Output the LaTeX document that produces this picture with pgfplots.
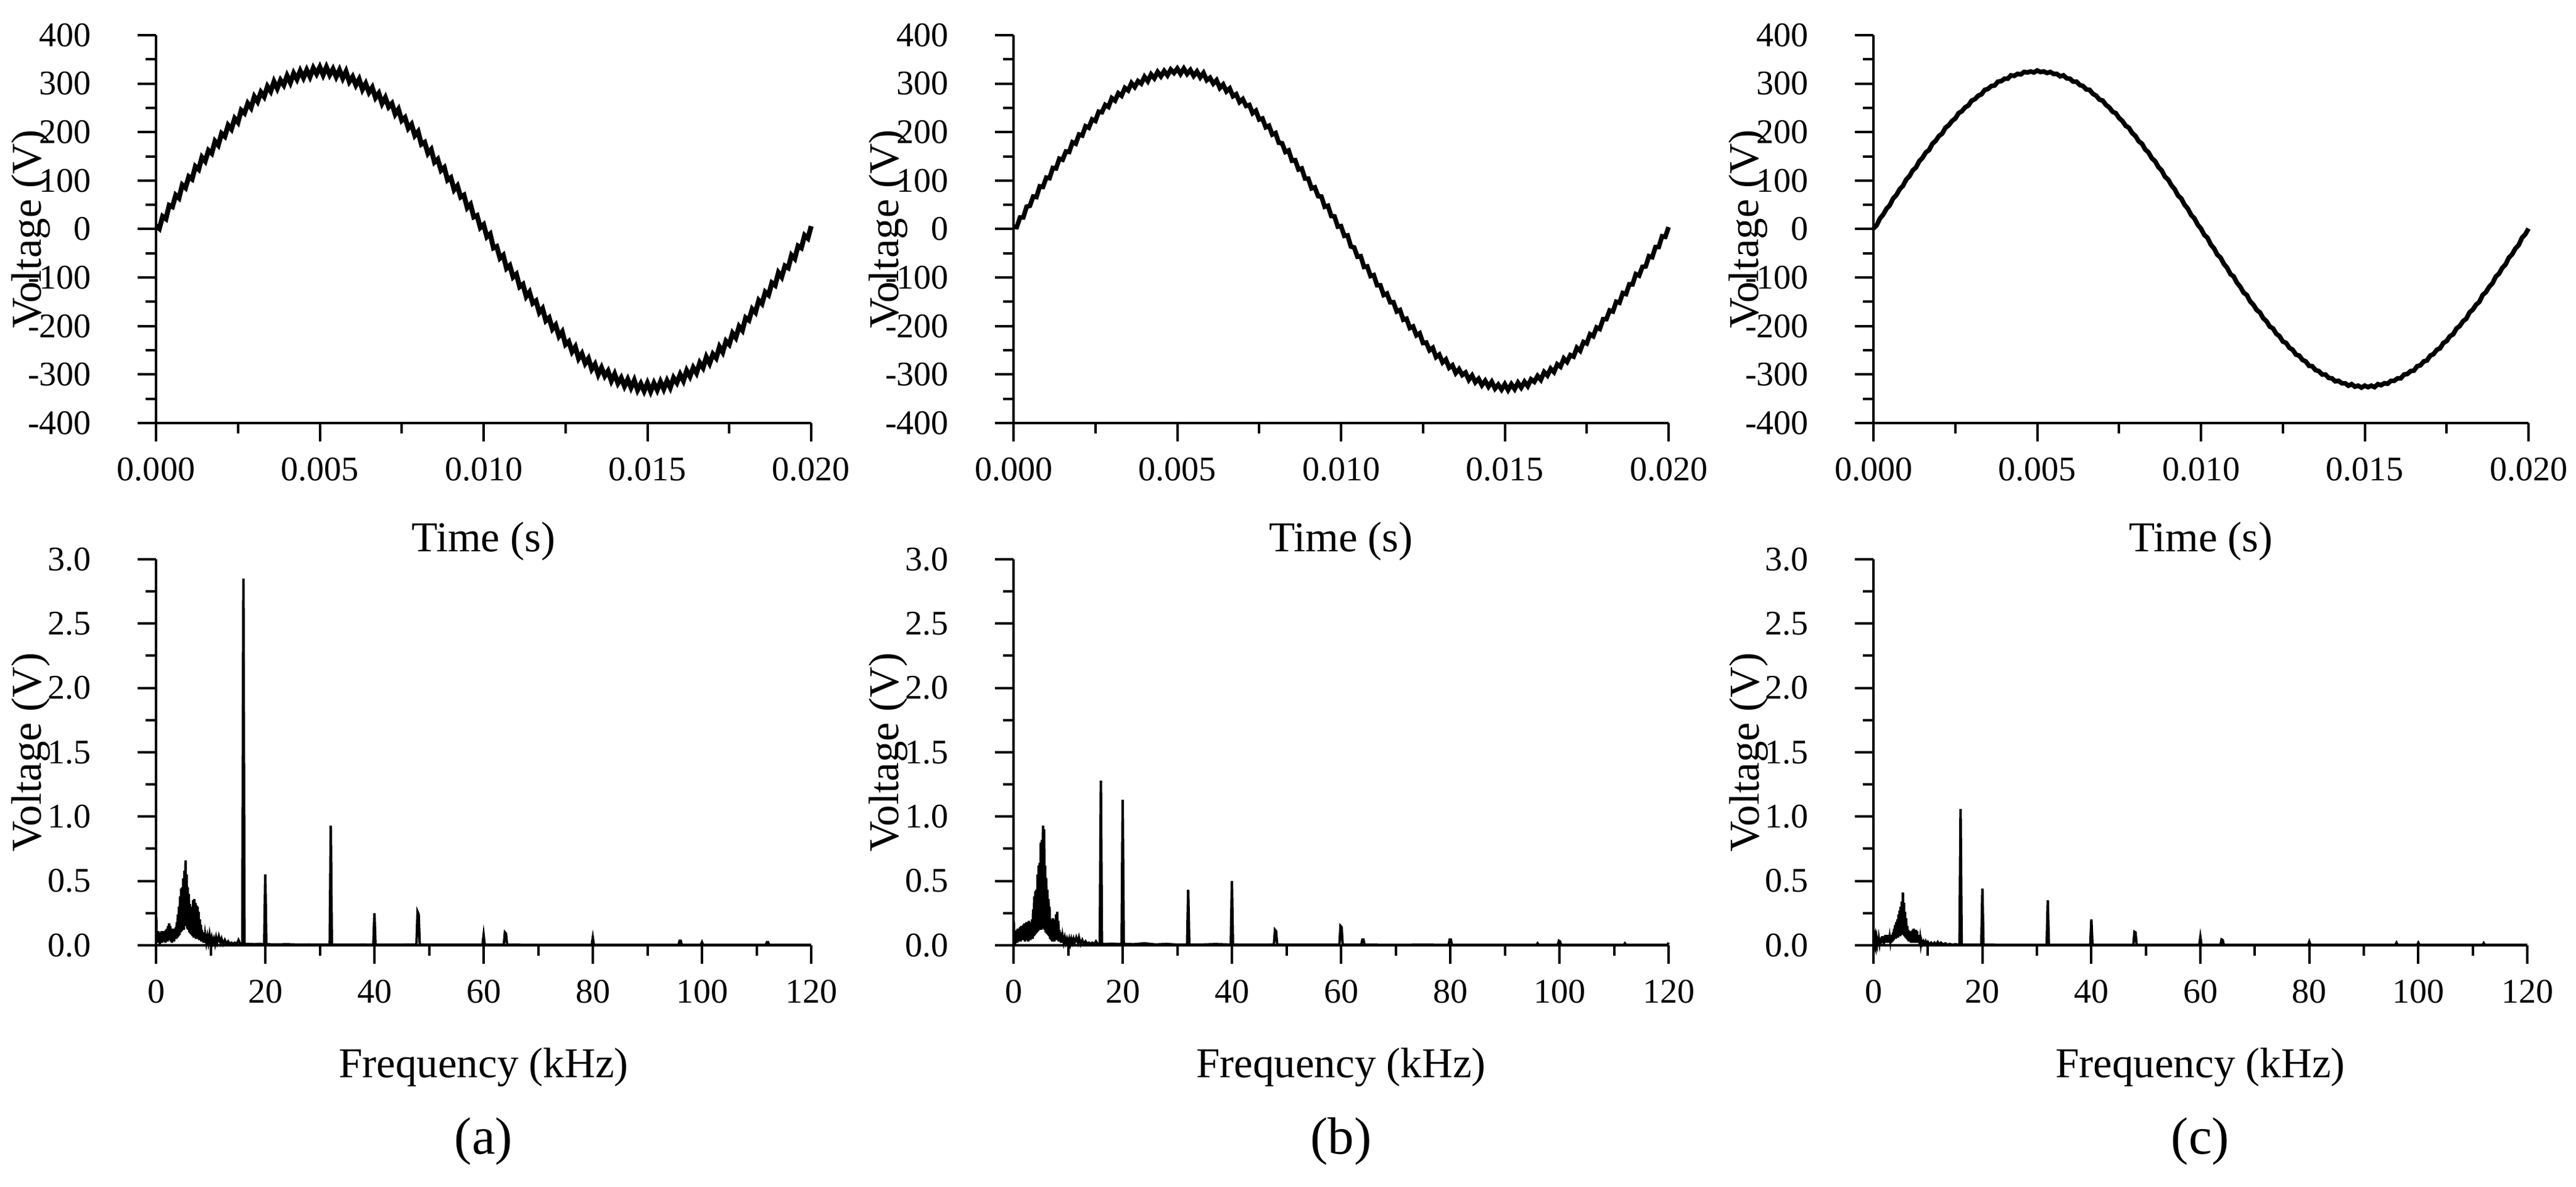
\documentclass[border=0pt]{standalone}
\usepackage{fontspec}
\setmainfont{Liberation Serif}
\usepackage{pgfplots}
\pgfplotsset{compat=1.18}
\usepackage{pgfplotstable}

\pgfplotstableread{
t a b c
0 7 5 1
0.0001 1 4 8
0.0002 26 24 22
0.0003 21 24 30
0.0004 49 46 42
0.0005 46 48 49
0.0006 70 67 63
0.0007 64 66 70
0.0008 91 88 82
0.0009 85 87 89
0.0010 108 106 102
0.0011 103 105 109
0.0012 129 126 121
0.0013 123 125 127
0.0014 148 145 140
0.0015 140 143 147
0.0016 162 160 158
0.0017 156 159 163
0.0018 181 179 176
0.0019 173 176 182
0.0020 197 195 192
0.0021 191 193 197
0.0022 214 212 209
0.0023 206 209 214
0.0024 228 226 223
0.0025 220 223 228
0.0026 245 242 239
0.0027 239 241 243
0.0028 259 256 251
0.0029 250 252 255
0.0030 273 270 265
0.0031 263 265 268
0.0032 282 280 275
0.0033 273 275 278
0.0034 294 291 287
0.0035 284 286 289
0.0036 304 301 295
0.0037 290 293 296
0.0038 307 305 304
0.0039 297 300 305
0.0040 316 314 310
0.0041 302 305 310
0.0042 321 319 317
0.0043 309 311 316
0.0044 326 324 320
0.0045 312 315 319
0.0046 328 326 324
0.0047 314 317 323
0.0048 332 329 325
0.0049 320 322 323
0.0050 334 331 327
0.0051 318 320 324
0.0052 334 331 325
0.0053 318 320 322
0.0054 330 328 324
0.0055 314 316 320
0.0056 328 325 320
0.0057 311 313 315
0.0058 325 322 317
0.0059 304 307 311
0.0060 314 312 310
0.0061 297 300 304
0.0062 309 307 304
0.0063 288 291 297
0.0064 300 298 295
0.0065 282 284 288
0.0066 292 290 287
0.0067 271 274 279
0.0068 280 278 275
0.0069 259 262 267
0.0070 271 268 265
0.0071 252 254 256
0.0072 259 256 251
0.0073 237 239 242
0.0074 247 244 239
0.0075 224 226 229
0.0076 230 228 223
0.0077 208 210 213
0.0078 216 213 209
0.0079 193 195 198
0.0080 201 198 192
0.0081 175 178 181
0.0082 179 177 176
0.0083 156 159 164
0.0084 164 162 158
0.0085 138 141 146
0.0086 144 142 140
0.0087 121 123 128
0.0088 127 125 121
0.0089 101 104 108
0.0090 106 104 102
0.0091 81 84 90
0.0092 89 86 82
0.0093 66 68 69
0.0094 70 67 63
0.0095 44 46 50
0.0096 51 48 42
0.0097 25 27 29
0.0098 28 26 22
0.0099 3 5 9
0.0100 9 6 1
0.0101 -16 -14 -12
0.0102 -10 -13 -18
0.0103 -39 -36 -32
0.0104 -36 -38 -40
0.0105 -60 -57 -53
0.0106 -54 -56 -59
0.0107 -81 -78 -72
0.0108 -75 -77 -80
0.0109 -99 -97 -93
0.0110 -93 -95 -98
0.0111 -119 -116 -111
0.0112 -114 -116 -119
0.0113 -139 -136 -131
0.0114 -130 -133 -136
0.0115 -153 -151 -149
0.0116 -148 -151 -156
0.0117 -172 -170 -167
0.0118 -164 -167 -172
0.0119 -189 -187 -184
0.0120 -183 -185 -190
0.0121 -206 -204 -201
0.0122 -198 -201 -205
0.0123 -221 -219 -216
0.0124 -212 -215 -221
0.0125 -238 -235 -232
0.0126 -232 -234 -235
0.0127 -253 -250 -245
0.0128 -243 -245 -249
0.0129 -267 -264 -259
0.0130 -257 -259 -261
0.0131 -277 -275 -270
0.0132 -267 -269 -273
0.0133 -289 -286 -282
0.0134 -279 -281 -283
0.0135 -300 -297 -291
0.0136 -286 -289 -293
0.0137 -303 -301 -300
0.0138 -293 -296 -300
0.0139 -313 -311 -307
0.0140 -299 -302 -308
0.0141 -318 -316 -314
0.0142 -307 -309 -313
0.0143 -324 -322 -318
0.0144 -310 -313 -318
0.0145 -327 -325 -323
0.0146 -312 -315 -320
0.0147 -332 -329 -325
0.0148 -319 -321 -323
0.0149 -334 -331 -327
0.0150 -318 -320 -323
0.0151 -335 -332 -326
0.0152 -318 -320 -323
0.0153 -332 -330 -326
0.0154 -315 -317 -320
0.0155 -330 -327 -322
0.0156 -313 -315 -318
0.0157 -327 -324 -319
0.0158 -307 -310 -313
0.0159 -317 -315 -313
0.0160 -300 -303 -308
0.0161 -313 -311 -308
0.0162 -292 -295 -300
0.0163 -304 -302 -299
0.0164 -286 -288 -293
0.0165 -297 -295 -292
0.0166 -276 -279 -283
0.0167 -286 -284 -281
0.0168 -264 -267 -273
0.0169 -277 -274 -271
0.0170 -258 -260 -261
0.0171 -266 -263 -258
0.0172 -243 -245 -249
0.0173 -254 -251 -246
0.0174 -231 -233 -235
0.0175 -238 -236 -231
0.0176 -215 -217 -221
0.0177 -224 -221 -217
0.0178 -201 -203 -205
0.0179 -209 -206 -200
0.0180 -183 -186 -190
0.0181 -188 -186 -185
0.0182 -165 -168 -172
0.0183 -172 -170 -166
0.0184 -147 -150 -156
0.0185 -154 -152 -150
0.0186 -130 -132 -136
0.0187 -136 -134 -130
0.0188 -111 -114 -119
0.0189 -116 -114 -112
0.0190 -90 -93 -98
0.0191 -99 -96 -92
0.0192 -76 -78 -80
0.0193 -80 -77 -73
0.0194 -54 -56 -59
0.0195 -61 -58 -52
0.0196 -35 -37 -40
0.0197 -39 -37 -33
0.0198 -13 -15 -18
0.0199 -19 -16 -11
0.0200 6 4 1
}\wave

\pgfplotsset{
  base/.style={scale only axis, axis lines*=left,
    axis line style={line width=0.45pt,-},
    tick align=outside, major tick length=3pt, minor tick length=1.7pt,
    every tick/.style={black,line width=0.4pt}, minor tick num=1,
    tick label style={font=\fontsize{5.6}{6}\selectfont},
    label style={font=\fontsize{6.9}{8}\selectfont},
    xticklabel style={anchor=center, yshift=-4.5pt},
    yticklabel style={anchor=east, xshift=-4.0pt},
    scaled ticks=false, clip=false},
  wave/.style={base, width=106.2pt, height=62.9pt,
    xmin=0, xmax=0.02, ymin=-400, ymax=400,
    xtick={0,0.005,0.01,0.015,0.02},
    xticklabels={0.000,0.005,0.010,0.015,0.020},
    ytick={-400,-300,-200,-100,0,100,200,300,400},
    yticklabels={-400,-300,-200,-100,0,100,200,300,400},
    xlabel={Time (s)}, ylabel={Voltage (V)},
    xlabel style={at={(axis description cs:0.5,-0.305)}, anchor=center},
    ylabel style={at={(axis description cs:-0.191,0.5)}, anchor=center}},
  spec/.style={base, width=106.2pt, height=62.6pt,
    xmin=0, xmax=120, ymin=0, ymax=3,
    xtick={0,20,40,60,80,100,120},
    xticklabels={0,20,40,60,80,100,120},
    ytick={0,0.5,1,1.5,2,2.5,3},
    yticklabels={0.0,0.5,1.0,1.5,2.0,2.5,3.0},
    xlabel={Frequency (kHz)}, ylabel={Voltage (V)},
    xlabel style={at={(axis description cs:0.5,-0.316)}, anchor=center},
    ylabel style={at={(axis description cs:-0.191,0.5)}, anchor=center}},
}

\begin{document}
\begin{tikzpicture}[x=1pt,y=1pt]
\useasboundingbox (0,0) rectangle (417.6,192.5);

% ---------- top row: waveforms ----------
\begin{axis}[wave, at={(25.3pt,123.9pt)}, anchor=south west]
\addplot[black, line width=0.8pt] table[x=t,y=a] {\wave};
\end{axis}
\begin{axis}[wave, at={(164.3pt,123.9pt)}, anchor=south west]
\addplot[black, line width=0.75pt] table[x=t,y=b] {\wave};
\end{axis}
\begin{axis}[wave, at={(303.7pt,123.9pt)}, anchor=south west]
\addplot[black, line width=0.75pt] table[x=t,y=c] {\wave};
\end{axis}

% ---------- bottom row: spectra ----------
\begin{axis}[spec, at={(25.3pt,39.2pt)}, anchor=south west]
\addplot[black, line width=0.4pt] coordinates {
(0,0) (0.05,0.22) (0.1,0.03) (0.2,0.10) (0.3,0.02) (0.4,0.11) (0.5,0.03) (0.6,0.09) (0.7,0.01) (0.8,0.10) (0.9,0.04) (1.0,0.11) (1.1,0.02) (1.2,0.09) (1.3,0.03) (1.4,0.11) (1.5,0.04) (1.6,0.10) (1.7,0.02) (1.8,0.12) (1.9,0.04) (2.0,0.13) (2.1,0.03) (2.2,0.15) (2.3,0.05) (2.4,0.17) (2.5,0.04) (2.6,0.15) (2.7,0.03) (2.8,0.13) (2.9,0.02) (3.0,0.12) (3.1,0.04) (3.2,0.13) (3.3,0.03) (3.4,0.12) (3.5,0.05) (3.6,0.14) (3.7,0.05) (3.8,0.18) (3.9,0.06) (4.0,0.24) (4.1,0.07) (4.2,0.30) (4.3,0.08) (4.4,0.38) (4.5,0.10) (4.6,0.44) (4.7,0.11) (4.8,0.45) (4.9,0.14) (5.0,0.52) (5.1,0.12) (5.2,0.58) (5.3,0.15) (5.4,0.66) (5.5,0.16) (5.6,0.55) (5.7,0.13) (5.8,0.45) (5.9,0.12) (6.0,0.40) (6.1,0.10) (6.2,0.32) (6.3,0.09) (6.4,0.27) (6.5,0.08) (6.6,0.30) (6.7,0.07) (6.8,0.35) (6.9,0.06) (7.0,0.36) (7.1,0.07) (7.2,0.33) (7.3,0.05) (7.4,0.31) (7.5,0.06) (7.6,0.30) (7.7,0.05) (7.8,0.26) (7.9,0.04) (8.0,0.20) (8.1,0.04) (8.2,0.16) (8.3,0.03) (8.4,0.12) (8.5,0.03) (8.6,0.10) (8.7,0.02) (8.8,0.09) (8.9,0.02) (9.0,0.08) (9.2,0.02) (9.4,0.07) (9.6,0.02) (9.8,0.08) (10.0,0.02) (10.2,0.06) (10.4,0.02) (10.6,0.05) (10.8,0.01) (11.0,0.06) (11.2,0.02) (11.5,0.07) (11.8,0.02) (12.0,0.05) (12.3,0.01) (12.6,0.04) (12.9,0.01) (13.2,0.03) (13.5,0.01) (13.8,0.02) (14.1,0.01) (14.4,0.02) (14.8,0.01) (15.1,0.04) (15.4,0.01) (15.8,0.01) (16.0,2.85) (16.2,0.01) (17,0.01) (18,0.008) (19,0.01) (19.8,0.008) (20.0,0.55) (20.2,0.008) (22,0.006) (24,0.008) (26,0.005) (28,0.006) (30,0.005) (31.8,0.005) (32.0,0.93) (32.2,0.005) (35,0.004) (38,0.005) (39.8,0.004) (40,0.25) (40.2,0.004) (43,0.004) (46,0.005) (47.7,0.005) (47.9,0.26) (48.1,0.24) (48.3,0.005) (52,0.004) (56,0.004) (59.8,0.004) (60,0.08) (60.2,0.004) (63.7,0.004) (63.9,0.10) (64.1,0.09) (64.3,0.004) (70,0.003) (75,0.003) (79.8,0.003) (80,0.06) (80.2,0.003) (85,0.003) (90,0.003) (95.7,0.003) (95.9,0.035) (96.1,0.035) (96.3,0.003) (99.8,0.003) (100,0.024) (100.2,0.003) (105,0.003) (111.7,0.003) (111.9,0.025) (112.1,0.025) (112.3,0.003) (120,0.003)
};
\end{axis}

\begin{axis}[spec, at={(164.3pt,39.2pt)}, anchor=south west]
\addplot[black, line width=0.4pt] coordinates {
(0,0) (0.05,0.19) (0.1,0.02) (0.2,0.09) (0.3,0.01) (0.4,0.11) (0.5,0.03) (0.6,0.12) (0.7,0.02) (0.8,0.13) (0.9,0.03) (1.0,0.12) (1.1,0.04) (1.2,0.14) (1.3,0.03) (1.4,0.15) (1.5,0.04) (1.6,0.14) (1.7,0.05) (1.8,0.16) (1.9,0.04) (2.0,0.17) (2.1,0.03) (2.2,0.16) (2.3,0.05) (2.4,0.18) (2.5,0.04) (2.6,0.17) (2.7,0.03) (2.8,0.19) (2.9,0.05) (3.0,0.18) (3.1,0.04) (3.2,0.17) (3.3,0.06) (3.4,0.20) (3.5,0.05) (3.6,0.28) (3.7,0.07) (3.8,0.38) (3.9,0.08) (4.0,0.42) (4.1,0.09) (4.2,0.43) (4.3,0.10) (4.4,0.55) (4.5,0.11) (4.6,0.62) (4.7,0.12) (4.8,0.64) (4.9,0.13) (5.0,0.80) (5.1,0.12) (5.2,0.82) (5.3,0.14) (5.4,0.93) (5.5,0.13) (5.6,0.90) (5.7,0.12) (5.8,0.62) (5.9,0.10) (6.0,0.52) (6.1,0.09) (6.2,0.43) (6.3,0.08) (6.4,0.36) (6.5,0.07) (6.6,0.30) (6.7,0.05) (6.8,0.20) (6.9,0.04) (7.0,0.17) (7.1,0.03) (7.2,0.21) (7.3,0.04) (7.4,0.18) (7.5,0.03) (7.6,0.20) (7.7,0.04) (7.8,0.24) (7.9,0.05) (8.0,0.26) (8.1,0.04) (8.2,0.19) (8.3,0.03) (8.4,0.12) (8.5,0.03) (8.6,0.10) (8.7,0.02) (8.8,0.08) (8.9,0.02) (9.0,0.07) (9.2,0.02) (9.4,0.06) (9.6,0.02) (9.8,0.05) (10.0,0.02) (10.2,0.05) (10.4,0.01) (10.6,0.05) (10.8,0.02) (11.0,0.05) (11.2,0.02) (11.5,0.06) (11.8,0.02) (12.0,0.06) (12.3,0.01) (12.6,0.04) (12.9,0.01) (13.2,0.03) (13.5,0.01) (13.8,0.02) (14.1,0.01) (14.4,0.02) (14.8,0.01) (15.1,0.03) (15.4,0.01) (15.8,0.01) (16,1.28) (16.2,0.01) (17,0.01) (18,0.012) (19,0.01) (19.8,0.01) (20,1.13) (20.2,0.01) (22,0.008) (24,0.015) (26,0.006) (28,0.01) (30,0.005) (31.8,0.005) (32,0.43) (32.2,0.005) (35,0.006) (37,0.009) (39.8,0.005) (40,0.50) (40.2,0.005) (44,0.004) (47.7,0.005) (47.9,0.12) (48.1,0.11) (48.3,0.005) (52,0.004) (56,0.004) (59.7,0.004) (59.9,0.15) (60.1,0.14) (60.3,0.004) (63.7,0.004) (63.9,0.045) (64.1,0.045) (64.3,0.004) (70,0.003) (75,0.004) (79.7,0.003) (79.9,0.045) (80.1,0.045) (80.3,0.003) (85,0.003) (90,0.003) (95.8,0.003) (96,0.015) (96.2,0.003) (99.7,0.003) (99.9,0.035) (100.1,0.03) (100.3,0.003) (105,0.003) (111.8,0.003) (112,0.015) (112.2,0.003) (119.8,0.003) (120,0.02)
};
\end{axis}

\begin{axis}[spec, at={(303.7pt,39.2pt)}, anchor=south west, width=106.0pt]
\addplot[black, line width=0.4pt] coordinates {
(0,0) (0.05,0.12) (0.1,0.01) (0.2,0.04) (0.3,0.01) (0.4,0.05) (0.5,0.01) (0.6,0.05) (0.7,0.02) (0.8,0.06) (0.9,0.01) (1.0,0.05) (1.1,0.02) (1.2,0.06) (1.3,0.01) (1.4,0.06) (1.5,0.02) (1.6,0.07) (1.7,0.02) (1.8,0.06) (1.9,0.01) (2.0,0.07) (2.1,0.02) (2.2,0.08) (2.3,0.03) (2.4,0.07) (2.5,0.02) (2.6,0.08) (2.7,0.03) (2.8,0.07) (2.9,0.02) (3.0,0.06) (3.1,0.03) (3.2,0.07) (3.3,0.02) (3.4,0.08) (3.5,0.03) (3.6,0.10) (3.7,0.04) (3.8,0.13) (3.9,0.05) (4.0,0.16) (4.1,0.05) (4.2,0.18) (4.3,0.06) (4.4,0.20) (4.5,0.06) (4.6,0.24) (4.7,0.07) (4.8,0.27) (4.9,0.07) (5.0,0.30) (5.1,0.08) (5.2,0.34) (5.3,0.09) (5.4,0.41) (5.5,0.08) (5.6,0.33) (5.7,0.07) (5.8,0.26) (5.9,0.06) (6.0,0.21) (6.1,0.05) (6.2,0.15) (6.3,0.04) (6.4,0.12) (6.5,0.03) (6.6,0.10) (6.7,0.03) (6.8,0.11) (6.9,0.02) (7.0,0.10) (7.1,0.03) (7.2,0.12) (7.3,0.02) (7.4,0.13) (7.5,0.03) (7.6,0.12) (7.7,0.02) (7.8,0.12) (7.9,0.03) (8.0,0.11) (8.1,0.02) (8.2,0.08) (8.3,0.02) (8.4,0.06) (8.5,0.01) (8.6,0.05) (8.7,0.01) (8.8,0.04) (9.0,0.01) (9.2,0.03) (9.4,0.01) (9.6,0.03) (9.8,0.01) (10.0,0.025) (10.3,0.005) (10.6,0.02) (10.9,0.005) (11.2,0.02) (11.5,0.005) (11.8,0.025) (12.1,0.005) (12.4,0.02) (12.8,0.005) (13.2,0.015) (13.6,0.004) (14,0.01) (14.5,0.004) (15,0.008) (15.8,0.004) (16,1.06) (16.2,0.004) (18,0.004) (19.8,0.004) (20,0.44) (20.2,0.004) (25,0.003) (31.8,0.003) (32,0.35) (32.2,0.003) (36,0.003) (39.8,0.003) (40,0.20) (40.2,0.003) (44,0.003) (47.7,0.003) (47.9,0.105) (48.1,0.10) (48.3,0.003) (54,0.003) (59.8,0.003) (60,0.065) (60.2,0.003) (63.7,0.003) (63.9,0.045) (64.1,0.04) (64.3,0.003) (72,0.003) (79.8,0.003) (80,0.028) (80.2,0.003) (88,0.003) (95.8,0.003) (96,0.02) (96.2,0.003) (99.8,0.003) (100,0.02) (100.2,0.003) (106,0.003) (111.8,0.003) (112,0.017) (112.2,0.003) (120,0.003)
};
\end{axis}

% ---------- panel captions ----------
\node[font=\fontsize{8.5}{10}\selectfont] at (78.4,7.4) {(a)};
\node[font=\fontsize{8.5}{10}\selectfont] at (217.4,7.4) {(b)};
\node[font=\fontsize{8.5}{10}\selectfont] at (356.7,7.4) {(c)};
\end{tikzpicture}
\end{document}
